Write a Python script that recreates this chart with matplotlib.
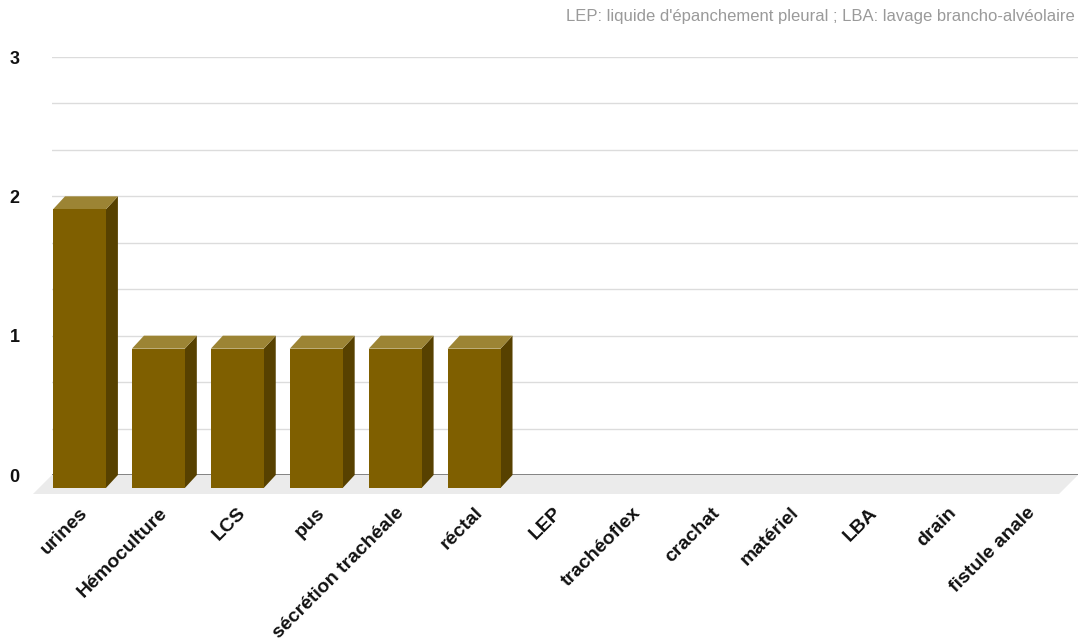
import numpy as np
import matplotlib.pyplot as plt
from matplotlib.patches import Polygon

categories = ["urines", "Hémoculture", "LCS", "pus", "sécrétion trachéale", "réctal",
              "LEP", "trachéoflex", "crachat", "matériel", "LBA", "drain", "fistule anale"]
values = [2, 1, 1, 1, 1, 1, 0, 0, 0, 0, 0, 0, 0]
y_ticks = [0, 1, 2, 3]
note = "LEP: liquide d'épanchement pleural ; LBA: lavage brancho-alvéolaire"

W, H = 1078, 643
fig = plt.figure(figsize=(W / 100, H / 100), dpi=100)
plt.rcParams['font.family'] = ['Liberation Sans', 'DejaVu Sans']

# back wall of the plot, in pixels
left, right, top, base = 52, 1078, 57, 475
ax = fig.add_axes([left / W, (H - base) / H, (right - left) / W, (base - top) / H])
n = len(categories)
ax.set_xlim(0, n)
ax.set_ylim(0, 3)

# pixel -> data conversion for the fake depth
px_x = n / (right - left)
px_y = 3 / (base - top)
bar_dx, bar_dy = 12 * px_x, 13 * px_y
floor_dx, floor_dy = 19 * px_x, 19 * px_y

for s in ax.spines.values():
    s.set_visible(False)
ax.set_yticks(y_ticks)
ax.set_yticks(np.arange(0, 3, 1 / 3), minor=True)
ax.grid(axis='y', which='both', color='#dcdcdc', linewidth=1, zorder=0)
ax.axhline(0, color='#555555', linewidth=1.2, zorder=1)
ax.tick_params(axis='y', which='both', length=0, pad=27)
for lab in ax.get_yticklabels():
    lab.set_fontweight('bold')
    lab.set_fontsize(13)
    lab.set_color('#111111')
    lab.set_horizontalalignment('center')

# floor
floor = Polygon([(0, 0), (n, 0), (n - floor_dx, -floor_dy), (-floor_dx, -floor_dy)],
                closed=True, facecolor='#ebebeb', edgecolor='none', clip_on=False, zorder=1)
ax.add_patch(floor)

w = 0.67
x = np.arange(n) + 0.5
front_color, side_color, top_color = '#7f5f00', '#574100', '#9c8434'
for xi, v in zip(x, values):
    if v <= 0:
        continue
    x0 = xi - w / 2 - bar_dx
    x1 = xi + w / 2 - bar_dx
    side = Polygon([(x1, -bar_dy), (x1 + bar_dx, 0), (x1 + bar_dx, v), (x1, v - bar_dy)],
                   closed=True, facecolor=side_color, edgecolor='none', clip_on=False, zorder=3)
    cap = Polygon([(x0, v - bar_dy), (x1, v - bar_dy), (x1 + bar_dx, v), (x0 + bar_dx, v)],
                  closed=True, facecolor=top_color, edgecolor='none', clip_on=False, zorder=3)
    ax.add_patch(side)
    ax.add_patch(cap)
ax.bar(x - bar_dx, values, width=w, bottom=-bar_dy, color=front_color,
       clip_on=False, zorder=4)

ax.set_xticks(x - bar_dx)
ax.set_xticklabels(categories, rotation=45, ha='right', rotation_mode='anchor',
                   fontsize=14, fontweight='bold', color='#111111')
ax.tick_params(axis='x', length=0, pad=21)

fig.text(1075 / W, 1 - 16 / H, note, fontsize=12, color='#9a9a9a', ha='right', va='center')

fig.savefig('out.png', dpi=100)
